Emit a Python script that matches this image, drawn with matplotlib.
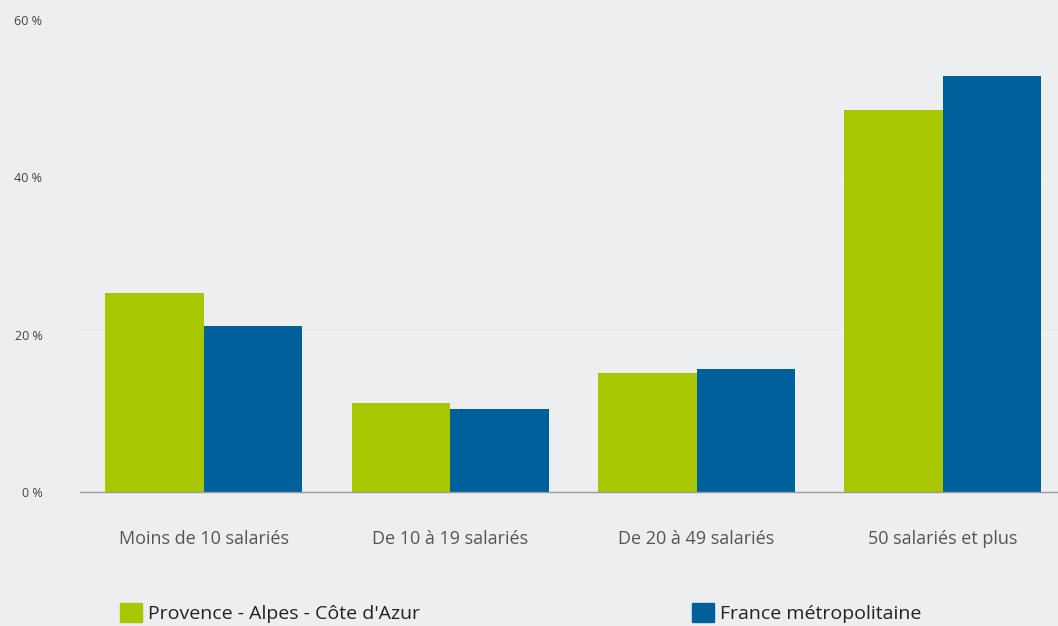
import matplotlib.pyplot as plt
import numpy as np
from matplotlib.patches import Patch

categories = ['Moins de 10 salariés', 'De 10 à 19 salariés',
              'De 20 à 49 salariés', '50 salariés et plus']
paca = [25.3, 11.3, 15.1, 48.5]
france = [21.1, 10.6, 15.6, 52.9]
series_names = ["Provence - Alpes - Côte d'Azur", 'France métropolitaine']
yticks = [0, 20, 40, 60]

green = '#a9c700'
blue = '#00609b'
bg = '#eceef0'

plt.rcParams['font.family'] = ['Open Sans', 'DejaVu Sans']

fig = plt.figure(figsize=(10.58, 6.26), dpi=100, facecolor=bg)
ax = fig.add_axes([80 / 1058, 134 / 626, 978 / 1058, 472 / 626])
ax.set_facecolor(bg)

x = np.arange(len(categories))
w = 0.4
ax.bar(x - w / 2, paca, w, color=green, zorder=3)
ax.bar(x + w / 2, france, w, color=blue, zorder=3)

ax.set_xlim(-0.503, 3.467)
ax.set_ylim(0, 60)
ax.set_yticks(yticks)
ax.set_yticklabels([f'{t} %' for t in yticks], fontsize=9, color='#444444')
ax.set_xticks(x)
ax.set_xticklabels(categories, fontsize=13, color='#555555')
ax.tick_params(axis='y', length=0, pad=27)
ax.tick_params(axis='x', length=0, pad=27)

ax.yaxis.grid(True, color='#f2f3f4', linewidth=1, zorder=0)
for s in ['top', 'right', 'left']:
    ax.spines[s].set_visible(False)
ax.spines['bottom'].set_color('#9a9a9a')
ax.spines['bottom'].set_linewidth(1)
ax.spines['bottom'].set_zorder(4)

leg_y = 13 / 626
fig.legend(handles=[Patch(color=green)], labels=[series_names[0]],
           loc='center left', bbox_to_anchor=(102 / 1058, leg_y),
           frameon=False, fontsize=14, handlelength=1.15, handleheight=1.15,
           handletextpad=0.3, labelcolor='#222222')
fig.legend(handles=[Patch(color=blue)], labels=[series_names[1]],
           loc='center left', bbox_to_anchor=(674 / 1058, leg_y),
           frameon=False, fontsize=14, handlelength=1.15, handleheight=1.15,
           handletextpad=0.3, labelcolor='#222222')

fig.savefig('out.png', dpi=100, facecolor=bg)
